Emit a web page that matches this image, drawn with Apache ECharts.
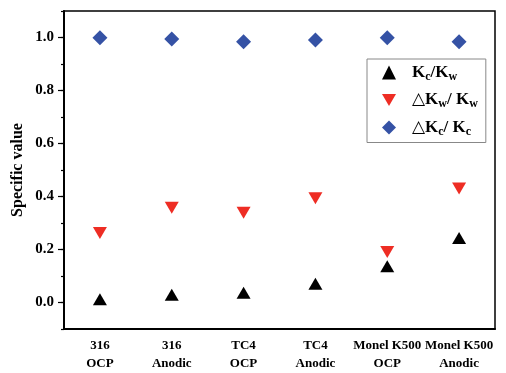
<!DOCTYPE html>
<html><head><meta charset="utf-8">
<script src="https://cdn.jsdelivr.net/npm/echarts@6/dist/echarts.min.js"></script>
<style>html,body{margin:0;padding:0;background:#fff}#c{width:506px;height:373px}</style>
</head><body><div id="c"></div>
<script>
var categories = ['316\nOCP', '316\nAnodic', 'TC4\nOCP', 'TC4\nAnodic', 'Monel K500\nOCP', 'Monel K500\nAnodic'];
var kcKw = [0.012, 0.029, 0.037, 0.071, 0.137, 0.243];
var dKwKw = [0.262, 0.358, 0.339, 0.393, 0.191, 0.430];
var dKcKc = [0.999, 0.994, 0.984, 0.991, 0.999, 0.984];
var seriesNames = ['Kc/Kw', 'dKw/Kw', 'dKc/Kc'];
var yTickLabels = [0.0, 0.2, 0.4, 0.6, 0.8, 1.0];

var serif = '"Liberation Serif", "DejaVu Serif", serif';
var chart = echarts.init(document.getElementById('c'));
var downTri = 'path://M0,0 L10,0 L5,8.66 Z';
var legendRich = {
  g: {width: 11},
  k: {fontFamily: serif, fontWeight: 'bold', fontSize: 17, color: '#000'},
  s: {fontFamily: serif, fontWeight: 'bold', fontSize: 12, color: '#000', verticalAlign: 'bottom', padding: [8, 0, 0, 0]}
};
var legendText = {
  'Kc/Kw': '{g|}{k|K}{s|c}{k|/K}{s|w}',
  'dKw/Kw': '{g|}{k|\u25B3K}{s|w}{k|/ K}{s|w}',
  'dKc/Kc': '{g|}{k|\u25B3K}{s|c}{k|/ K}{s|c}'
};
chart.setOption({
  animation: false,
  grid: {left: 64, top: 11, right: 11, bottom: 41, show: true, borderColor: '#000', borderWidth: 1.5},
  legend: {
    orient: 'vertical', left: 367, top: 59, width: 115,
    padding: [5, 8, 5, 15], itemGap: 9, itemWidth: 14, itemHeight: 14,
    borderColor: '#888', borderWidth: 1,
    data: [
      {name: seriesNames[0], icon: 'triangle'},
      {name: seriesNames[1], icon: downTri},
      {name: seriesNames[2], icon: 'diamond'}
    ],
    formatter: function (n) { return legendText[n]; },
    textStyle: {rich: legendRich}
  },
  xAxis: {
    type: 'category', data: categories, boundaryGap: true,
    axisLine: {onZero: false, lineStyle: {color: '#000', width: 2}},
    axisTick: {alignWithLabel: true, inside: true, length: 5, lineStyle: {color: '#000', width: 1.5}},
    axisLabel: {fontFamily: serif, fontWeight: 'bold', fontSize: 13, color: '#000', lineHeight: 18, margin: 8, interval: 0}
  },
  yAxis: [{
    type: 'value', min: -0.1, max: 1.1, interval: 0.1,
    name: 'Specific value', nameLocation: 'middle', nameGap: 38,
    nameTextStyle: {fontFamily: serif, fontWeight: 'bold', fontSize: 16, color: '#000'},
    splitLine: {show: false},
    axisLine: {show: true, onZero: false, lineStyle: {color: '#000', width: 2}},
    axisTick: {show: true, length: 3, lineStyle: {color: '#000', width: 1.2}},
    axisLabel: {show: false}
  }, {
    type: 'value', min: -0.1, max: 1.1, interval: 0.1, position: 'left',
    splitLine: {show: false},
    axisLine: {show: false},
    axisTick: {show: true, length: 6, customValues: yTickLabels, lineStyle: {color: '#000', width: 1.2}},
    axisLabel: {
      fontFamily: serif, fontWeight: 'bold', fontSize: 15, color: '#000', margin: 10,
      customValues: yTickLabels,
      formatter: function (v) { return (Math.round(v * 10) / 10).toFixed(1); }
    }
  }],
  series: [
    {name: seriesNames[0], type: 'scatter', data: kcKw, symbol: 'triangle', symbolSize: [14, 12], itemStyle: {color: '#000', opacity: 1}},
    {name: seriesNames[1], type: 'scatter', data: dKwKw, symbol: 'triangle', symbolRotate: 180, symbolSize: [14, 12], itemStyle: {color: '#ee2d24', opacity: 1}},
    {name: seriesNames[2], type: 'scatter', data: dKcKc, symbol: 'diamond', symbolSize: [15, 15], itemStyle: {color: '#3552a5', opacity: 1}}
  ]
});
</script>
</body></html>
